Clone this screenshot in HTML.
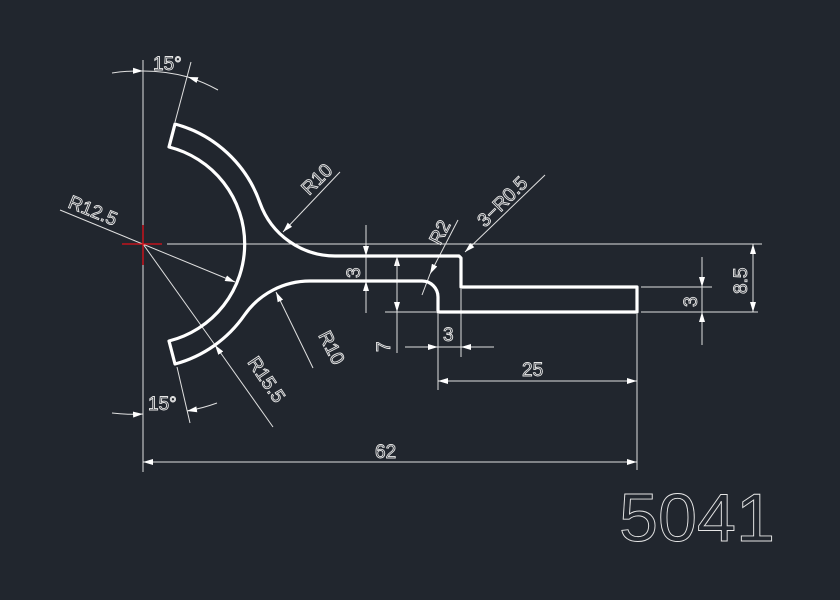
<!DOCTYPE html>
<html><head><meta charset="utf-8"><style>
html,body{margin:0;padding:0;background:#21262e;}
svg{display:block}
text{font-family:"Liberation Sans",sans-serif;fill:none;stroke:#e6e6e6;stroke-width:0.9}
</style></head><body>
<svg width="840" height="600" viewBox="0 0 840 600" xmlns="http://www.w3.org/2000/svg">
<defs>
<marker id="a" viewBox="0 0 10 6" refX="10" refY="3" markerWidth="10" markerHeight="6" markerUnits="userSpaceOnUse" orient="auto-start-reverse">
<path d="M0,0 L10,3 L0,6 Z" fill="#fff"/></marker>
</defs>
<rect width="840" height="600" fill="#21262e"/>
<g stroke="#e0e0e0" stroke-width="1" fill="none">
<!-- center lines -->
<line x1="143" y1="60" x2="143" y2="225"/>
<line x1="143" y1="265" x2="143" y2="472"/>
<line x1="167" y1="244" x2="762" y2="244"/>
<!-- extension lines -->
<line x1="385" y1="312" x2="436" y2="312"/>
<line x1="641" y1="312" x2="758" y2="312"/>
<line x1="641" y1="287" x2="712" y2="287"/>
<line x1="438" y1="314" x2="438" y2="390"/>
<line x1="461" y1="289" x2="461" y2="357"/>
<line x1="637" y1="314" x2="637" y2="470"/>
<!-- 8.5 -->
<line x1="753" y1="244" x2="753" y2="312" marker-start="url(#a)" marker-end="url(#a)"/>
<!-- 3 right -->
<line x1="702" y1="257" x2="702" y2="287" marker-end="url(#a)"/>
<line x1="702" y1="345" x2="702" y2="312" marker-end="url(#a)"/>
<line x1="702" y1="287" x2="702" y2="312"/>
<!-- 3 web -->
<line x1="366" y1="225" x2="366" y2="256" marker-end="url(#a)"/>
<line x1="366" y1="313" x2="366" y2="281" marker-end="url(#a)"/>
<line x1="366" y1="256" x2="366" y2="281"/>
<!-- 7 -->
<line x1="397" y1="353" x2="397" y2="256" marker-end="url(#a)"/>
<line x1="397" y1="256" x2="397" y2="312" marker-end="url(#a)"/>
<!-- 3 bottom -->
<line x1="405" y1="347" x2="438" y2="347" marker-end="url(#a)"/>
<line x1="494" y1="347" x2="461" y2="347" marker-end="url(#a)"/>
<line x1="438" y1="347" x2="461" y2="347"/>
<!-- 25 -->
<line x1="438" y1="381" x2="637" y2="381" marker-start="url(#a)" marker-end="url(#a)"/>
<!-- 62 -->
<line x1="143" y1="462" x2="637" y2="462" marker-start="url(#a)" marker-end="url(#a)"/>
<!-- 15 top -->
<line x1="175" y1="122" x2="191" y2="62"/>
<path d="M112,73 A173 173 0 0 1 143 71" marker-end="url(#a)"/>
<path d="M218,90 A173 173 0 0 0 188 77" marker-end="url(#a)"/>
<path d="M143,71 A173 173 0 0 1 188 77"/>
<!-- 15 bottom -->
<line x1="177" y1="367" x2="190" y2="423"/>
<path d="M112,413 A170 170 0 0 0 143 414" marker-end="url(#a)"/>
<path d="M217,403 A170 170 0 0 1 187 411" marker-end="url(#a)"/>
<!-- R10 top -->
<line x1="340" y1="172" x2="283" y2="232" marker-end="url(#a)"/>
<!-- R10 bottom -->
<line x1="313" y1="368" x2="276" y2="292" marker-end="url(#a)"/>
<!-- R15.5 -->
<line x1="273" y1="427" x2="215" y2="345" marker-end="url(#a)"/>
<line x1="143" y1="244" x2="215" y2="345"/>
<!-- R12.5 -->
<line x1="60" y1="210" x2="235" y2="282" marker-end="url(#a)"/>
<!-- R2 -->
<line x1="458" y1="220" x2="430" y2="274" marker-end="url(#a)"/>
<line x1="430" y1="274" x2="422" y2="295"/>
<!-- 3-R0.5 -->
<line x1="545" y1="175" x2="465" y2="252" marker-end="url(#a)"/>
</g>
<!-- red cross -->
<g stroke="#e0101a" stroke-width="1.3">
<line x1="122" y1="244" x2="162" y2="244"/>
<line x1="143" y1="225" x2="143" y2="265"/>
</g>
<!-- profile -->
<path d="M175,124 A124 124 0 0 1 260 203 A80 80 0 0 0 335 256 L459,256 L461,258 L461,287 L637,287 L637,312 L438,312 L438,297 A16 16 0 0 0 422 281 L310,281 A80 80 0 0 0 244.5 315 A124 124 0 0 1 175 364 L169,341 A100 100 0 0 0 169 147 Z" fill="none" stroke="#fff" stroke-width="3.2" stroke-linejoin="round"/>
<!-- labels -->
<g font-size="19">
<text x="153" y="70">15°</text>
<text x="148" y="410">15°</text>
<text x="375" y="458">62</text>
<text x="522" y="376">25</text>
<text x="443" y="341">3</text>
<text transform="translate(360,278) rotate(-90)">3</text>
<text transform="translate(390,352) rotate(-90)">7</text>
<text transform="translate(697,307) rotate(-90)">3</text>
<text transform="translate(747,294) rotate(-90)">8.5</text>
<text transform="translate(309,196) rotate(-45)">R10</text>
<text transform="translate(318,335) rotate(63)">R10</text>
<text transform="translate(247,362) rotate(56)">R15.5</text>
<text transform="translate(67,207) rotate(22)">R12.5</text>
<text transform="translate(440,246) rotate(-63)">R2</text>
<text transform="translate(485,228) rotate(-45)">3−R0.5</text>
</g>
<text x="619" y="541" font-size="68" textLength="156" lengthAdjust="spacingAndGlyphs" stroke-width="1">5041</text>
</svg>
</body></html>
